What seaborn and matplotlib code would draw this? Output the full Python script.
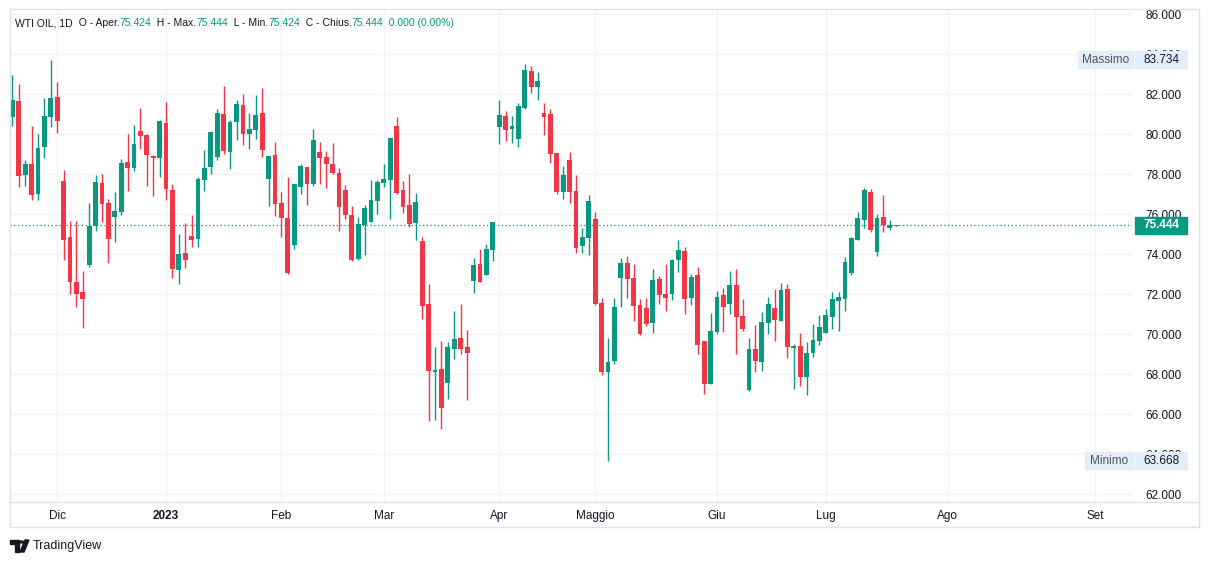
import numpy as np
import pandas as pd
import matplotlib
matplotlib.use('Agg')
import matplotlib.pyplot as plt
import matplotlib.transforms as mtransforms
from matplotlib.patches import Rectangle, Polygon, Circle
from matplotlib.lines import Line2D
import seaborn as sns

# daily candles, WTI OIL
opens = [80.88, 81.67, 77.98, 78.51, 77.03, 79.36, 80.88, 81.87, 77.66, 74.87,
         72.62, 72.12, 73.47, 75.42, 77.57, 76.57, 75.87, 76.12, 78.62, 78.32,
         80.17, 79.97, 78.92, 78.82, 80.57, 77.22, 73.22, 74.07, 74.92, 74.77,
         77.72, 78.37, 78.87, 81.02, 79.12, 80.62, 81.47, 80.02, 80.22, 81.07,
         77.77, 78.97, 76.57, 75.82, 74.48, 77.37, 78.37, 77.52, 79.12, 78.87,
         78.52, 78.07, 77.22, 75.97, 73.77, 75.47, 75.62, 76.67, 77.57, 77.72,
         80.42, 77.22, 76.47, 75.57, 74.67, 71.52, 68.12, 68.27, 67.57, 69.27,
         69.82, 69.37, 72.67, 73.52, 72.97, 74.22, 80.37, 80.92, 80.27, 79.77,
         81.32, 83.17, 82.37, 81.07, 81.02, 79.07, 77.12, 78.72, 77.17, 74.42,
         74.82, 75.77, 71.57, 68.12, 68.67, 72.82, 73.57, 72.82, 71.47, 71.32,
         70.57, 72.77, 72.02, 72.02, 73.72, 74.17, 71.82, 72.97, 69.67, 67.52,
         70.12, 71.97, 71.52, 72.47, 70.92, 67.22, 69.27, 68.62, 70.57, 71.32,
         70.67, 72.27, 69.32, 69.42, 67.87, 69.07, 69.67, 70.07, 70.87, 71.67,
         71.77, 73.07, 74.72, 75.72, 77.12, 74.12, 75.87, 75.32, 75.424]
highs = [82.97, 82.52, 78.72, 80.41, 80.01, 81.82, 83.734, 82.62, 78.22, 75.67,
         75.67, 73.17, 76.57, 77.97, 78.02, 76.77, 77.12, 78.77, 80.02, 80.47,
         81.32, 80.02, 78.97, 80.72, 81.62, 77.52, 75.02, 75.57, 75.97, 77.87,
         79.22, 80.17, 81.27, 82.42, 80.72, 81.72, 82.02, 81.07, 81.97, 82.32,
         78.92, 79.62, 77.12, 77.87, 77.52, 78.52, 78.37, 80.27, 79.62, 79.17,
         79.57, 78.32, 77.47, 76.42, 75.87, 76.47, 77.72, 77.72, 78.52, 79.82,
         80.87, 77.67, 78.02, 77.07, 74.87, 72.52, 69.37, 69.67, 69.62, 71.17,
         71.52, 70.22, 73.82, 74.27, 74.52, 75.62, 81.72, 81.17, 80.92, 81.57,
         83.52, 83.42, 83.12, 81.57, 81.27, 79.07, 78.42, 79.12, 77.97, 75.32,
         76.97, 76.12, 71.82, 69.82, 71.82, 73.82, 73.92, 73.52, 71.77, 71.82,
         73.27, 72.92, 73.52, 73.77, 74.72, 74.37, 73.02, 73.37, 69.67, 71.07,
         72.17, 72.32, 73.17, 73.27, 71.77, 69.82, 70.47, 71.12, 71.87, 72.27,
         72.57, 72.52, 69.52, 70.07, 69.62, 70.52, 70.97, 71.27, 72.12, 72.12,
         73.87, 74.87, 76.12, 77.32, 77.27, 76.02, 76.97, 75.72, 75.444]
lows = [80.41, 77.38, 77.43, 76.73, 76.73, 78.83, 80.37, 80.07, 73.72, 72.02,
        71.37, 70.32, 73.37, 75.17, 75.62, 73.57, 74.62, 75.97, 77.17, 78.17,
        79.27, 77.42, 76.92, 77.87, 76.72, 72.82, 72.52, 73.32, 74.37, 74.37,
        77.17, 78.02, 78.72, 79.02, 78.27, 79.72, 79.47, 79.27, 79.77, 78.87,
        76.42, 75.92, 74.87, 73.02, 74.28, 77.02, 76.47, 77.42, 77.52, 77.32,
        78.02, 75.17, 75.77, 73.67, 73.72, 73.97, 75.62, 76.02, 77.37, 75.77,
        77.02, 76.07, 75.37, 74.72, 70.77, 65.67, 65.72, 65.27, 66.77, 68.77,
        69.02, 66.72, 72.07, 72.62, 72.97, 73.67, 79.52, 79.67, 79.57, 79.37,
        81.27, 82.07, 81.72, 79.97, 78.57, 77.02, 76.77, 76.57, 74.07, 74.07,
        73.97, 71.47, 67.97, 63.668, 68.52, 71.37, 71.82, 70.67, 69.97, 70.42,
        70.07, 71.52, 71.17, 71.72, 73.12, 71.02, 71.47, 69.02, 67.02, 67.52,
        70.02, 70.12, 71.02, 69.02, 70.17, 67.17, 68.12, 68.17, 70.02, 69.67,
        70.67, 68.82, 67.27, 67.42, 66.97, 68.87, 69.47, 70.07, 70.27, 70.17,
        71.17, 72.97, 74.72, 75.32, 75.12, 73.92, 75.12, 75.22, 75.424]
closes = [81.72, 77.93, 78.51, 76.98, 79.31, 80.92, 81.82, 80.67, 74.72, 72.62,
          72.02, 71.77, 75.42, 77.61, 76.52, 74.77, 76.17, 78.57, 78.32, 79.52,
          79.92, 78.97, 78.82, 80.67, 77.27, 73.27, 74.02, 73.72, 74.72, 77.77,
          78.32, 80.12, 81.07, 79.17, 80.62, 81.52, 80.02, 80.27, 80.97, 79.22,
          78.92, 76.52, 75.82, 73.07, 77.52, 78.42, 77.52, 79.72, 78.82, 78.52,
          78.07, 76.37, 75.97, 73.72, 75.52, 76.32, 76.72, 77.62, 77.77, 79.82,
          77.07, 76.37, 75.52, 76.62, 71.42, 68.17, 68.22, 66.32, 69.37, 69.77,
          69.27, 69.07, 73.47, 72.62, 74.27, 75.62, 80.97, 80.22, 80.42, 81.42,
          83.22, 82.37, 82.67, 80.87, 79.02, 77.12, 77.97, 77.12, 74.32, 74.87,
          76.67, 71.52, 68.12, 68.62, 71.37, 73.57, 72.77, 71.42, 70.02, 70.52,
          72.72, 71.97, 71.82, 73.72, 74.22, 71.77, 72.87, 69.47, 67.52, 70.17,
          71.87, 71.37, 72.47, 70.87, 70.27, 69.27, 68.67, 70.62, 71.52, 70.72,
          72.22, 69.37, 69.42, 67.87, 69.07, 69.72, 70.37, 70.97, 71.77, 71.87,
          73.62, 74.82, 75.82, 77.22, 75.22, 75.82, 75.47, 75.47, 75.444]

month_pos = [7, 24, 42, 58, 76, 91, 110, 127, 146, 169]
month_labels = ['Dic', '2023', 'Feb', 'Mar', 'Apr', 'Maggio', 'Giu', 'Lug', 'Ago', 'Set']
price_ticks = list(range(62, 88, 2))
change_text = '0.000 (0.00%)'

UP = '#089981'
DOWN = '#F23645'
TXT = '#131722'
GRID = '#F0F3FA'
BORDER = '#E0E3EB'
TAG = '#E3EEFC'

sns.set_theme(style='white')
plt.rcParams['font.family'] = ['Liberation Sans', 'DejaVu Sans']

df = pd.DataFrame({'open': opens, 'high': highs, 'low': lows, 'close': closes})
df['idx'] = np.arange(len(df))
df['up'] = df['close'] >= df['open']
colors = np.where(df['up'], UP, DOWN)

W, H = 1209, 564
fig = plt.figure(figsize=(W / 100, H / 100), dpi=100)
fig.patch.set_facecolor('white')
ax = fig.add_axes([10 / W, 1 - 502 / H, 1122 / W, 493 / H])

# grid
for p in price_ticks:
    ax.axhline(p, color=GRID, linewidth=1, zorder=0)
for m in month_pos:
    ax.axvline(m, color=GRID, linewidth=1, zorder=0)

# candles
ax.vlines(df['idx'], df['low'], df['high'], colors=colors, linewidth=1, zorder=2)
body = np.maximum((df['close'] - df['open']).abs(), 0.05)
ax.bar(df['idx'], body, bottom=np.minimum(df['open'], df['close']), width=0.75,
       color=colors, linewidth=0, zorder=3)

last = closes[-1]
ax.axhline(last, color=UP, linestyle=(0, (1, 2)), linewidth=0.9, zorder=1)

ax.set_xlim(-0.36, 174.8)
ax.set_ylim(61.615, 86.265)
sns.despine(ax=ax, left=True, bottom=True, right=True, top=True)

ax.yaxis.tick_right()
ax.set_yticks(price_ticks)
ax.set_yticklabels([f'{p:.3f}' for p in price_ticks])
ax.tick_params(axis='y', length=0, pad=9.5, labelsize=8.5, labelcolor=TXT)
ax.set_xticks(month_pos)
ax.set_xticklabels(month_labels)
ax.tick_params(axis='x', length=0, pad=6, labelsize=8.5, labelcolor=TXT)
ax.get_xticklabels()[1].set_fontweight('bold')

# frame lines
fig.add_artist(Rectangle((9.5 / W, 1 - 527 / H), 1189.5 / W, 518 / H, transform=fig.transFigure,
                         fill=False, edgecolor=BORDER, linewidth=1))
fig.add_artist(Line2D([9.5 / W, 1199 / W], [1 - 502 / H, 1 - 502 / H], transform=fig.transFigure,
                      color=BORDER, linewidth=1))

# price tags on the scale
tr = mtransforms.blended_transform_factory(fig.transFigure, ax.transData)
hh = 0.85
fig.add_artist(Rectangle((1135 / W, last - hh / 2), 52 / W, hh, transform=tr, color=UP, zorder=5))
fig.text(1161 / W, last, f'{last:.3f}', transform=tr, ha='center', va='center',
         color='white', fontsize=8.5, fontweight='bold', zorder=6)

hi, lo = max(highs), min(lows)
for val, name in [(hi, 'Massimo'), (lo, 'Minimo')]:
    fig.add_artist(Rectangle((1135 / W, val - hh / 2), 52 / W, hh, transform=tr, color=TAG, zorder=5))
    fig.text(1161 / W, val, f'{val:.3f}', transform=tr, ha='center', va='center',
             color=TXT, fontsize=8.5, zorder=6)
    tw = 55 if name == 'Massimo' else 48
    fig.add_artist(Rectangle(((1133 - tw) / W, val - hh / 2), tw / W, hh, transform=tr, color=TAG, zorder=5))
    fig.text((1133 - tw / 2) / W, val, name, transform=tr, ha='center', va='center',
             color='#50535E', fontsize=8.5, zorder=6)

# legend line at the top
parts = [('WTI OIL, 1D', TXT), ('  O - Aper.', TXT), (f'{opens[-1]:.3f}', UP),
         ('  H - Max.', TXT), (f'{highs[-1]:.3f}', UP), ('  L - Min.', TXT), (f'{lows[-1]:.3f}', UP),
         ('  C - Chius.', TXT), (f'{closes[-1]:.3f}', UP), ('  ' + change_text, UP)]
t = fig.text(15 / W, 1 - 23 / H, parts[0][0], color=parts[0][1], fontsize=7.5, va='center', ha='left')
for s, c in parts[1:]:
    t = ax.annotate(s, xy=(1, 0), xycoords=t, va='bottom', ha='left', color=c,
                    fontsize=7.5, annotation_clip=False)

# TradingView mark
fig.add_artist(Polygon([[10 / W, 1 - 540 / H], [19 / W, 1 - 540 / H], [19 / W, 1 - 552 / H],
                        [15 / W, 1 - 552 / H], [15 / W, 1 - 544 / H], [10 / W, 1 - 544 / H]],
                       closed=True, transform=fig.transFigure, color=TXT))
fig.add_artist(Circle((21.5 / W, 1 - 542 / H), 2.0 / W, transform=fig.transFigure, color=TXT))
fig.add_artist(Polygon([[25 / W, 1 - 540 / H], [29 / W, 1 - 540 / H], [24 / W, 1 - 552 / H],
                        [20 / W, 1 - 552 / H]], closed=True, transform=fig.transFigure, color=TXT))
fig.text(33 / W, 1 - 546 / H, 'TradingView', color=TXT, fontsize=9, va='center', ha='left')

fig.savefig('out.png', dpi=100, facecolor='white')
